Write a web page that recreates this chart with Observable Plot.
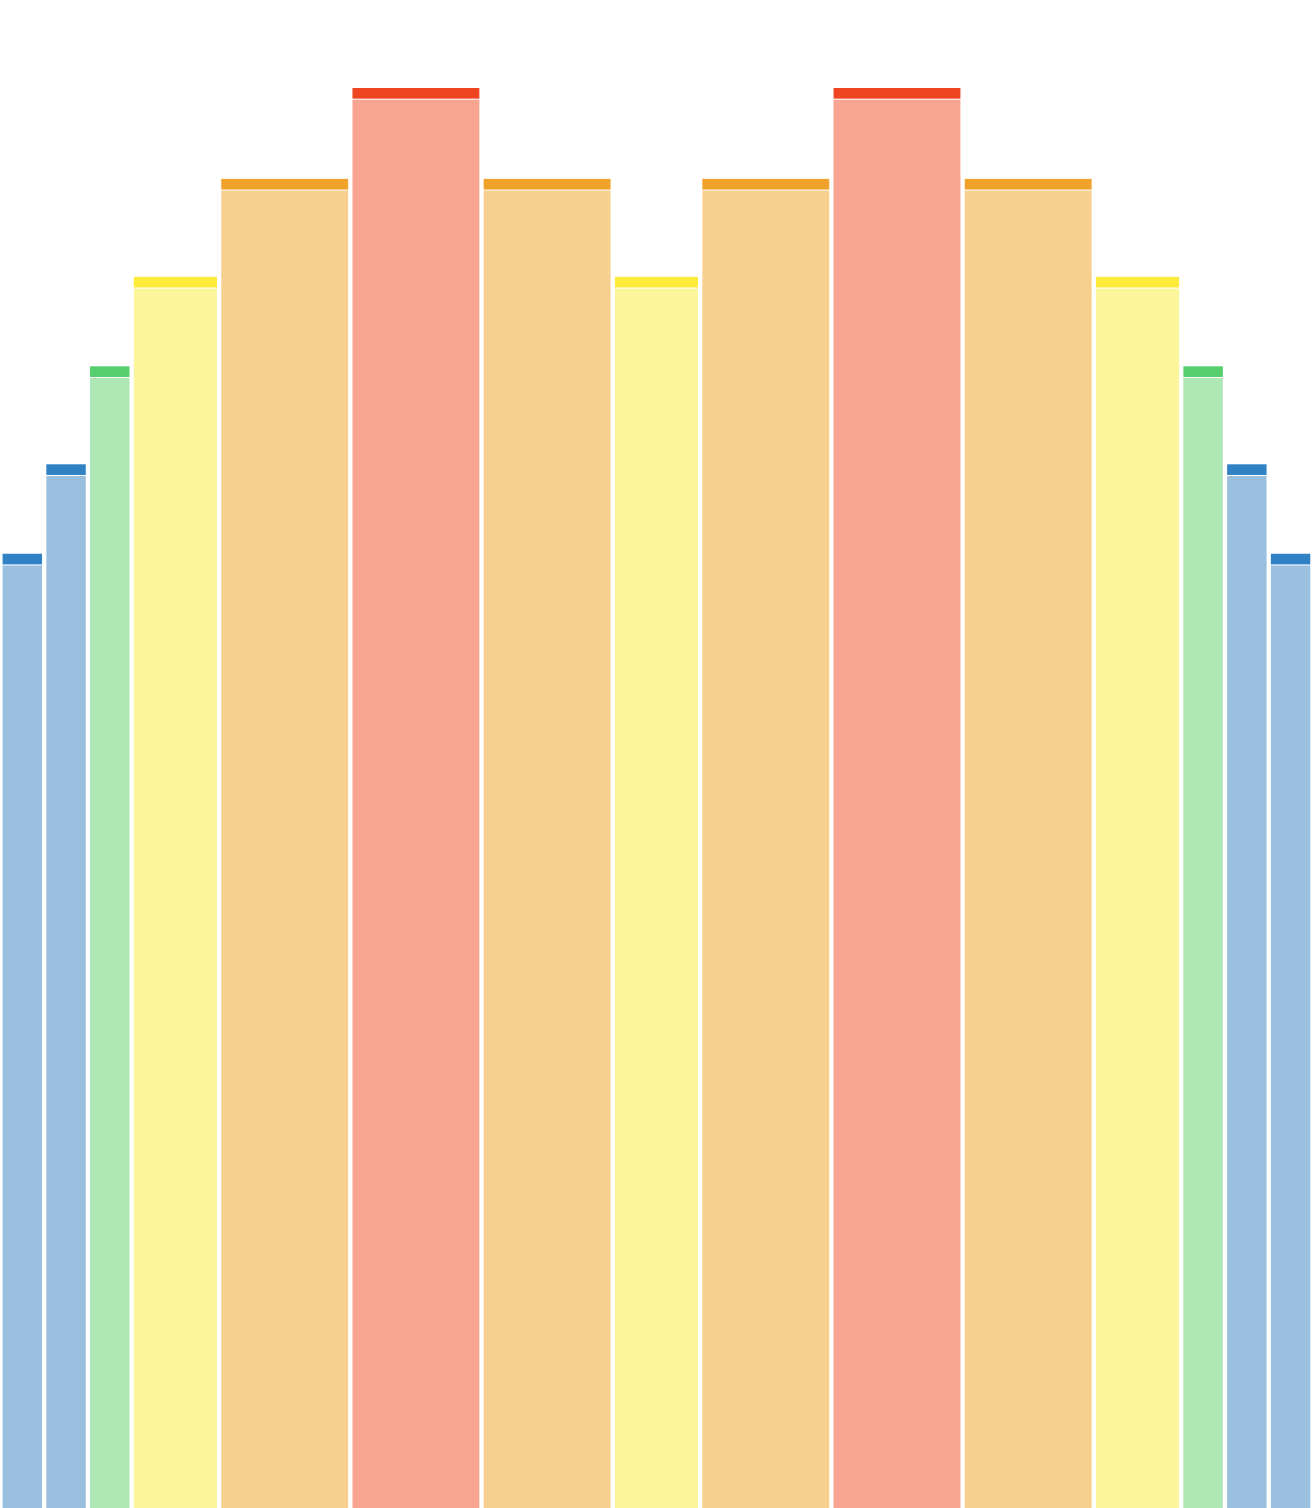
<!DOCTYPE html>
<html>
<head>
<meta charset="utf-8">
<script src="https://cdn.jsdelivr.net/npm/d3@7"></script>
<script src="https://cdn.jsdelivr.net/npm/@observablehq/plot@0.6"></script>
<style>
  html, body { margin: 0; padding: 0; background: #fff; overflow: hidden; }
  svg { display: block; }
</style>
</head>
<body>
<div id="chart"></div>
<script>
// Bar widths (in units), heights (values) and colour groups, left to right
const widths = [1, 1, 1, 2, 3, 3, 3, 2, 3, 3, 3, 2, 1, 1, 1];
const values = [67.2, 73.5, 80.4, 86.7, 93.6, 100, 93.6, 86.7, 93.6, 100, 93.6, 86.7, 80.4, 73.5, 67.2];
const groups = ["blue", "blue", "green", "yellow", "orange", "red", "orange", "yellow", "orange", "red", "orange", "yellow", "green", "blue", "blue"];

const groupNames = ["blue", "green", "yellow", "orange", "red"];
const capColors = ["#3182c4", "#55ce6b", "#fdea3a", "#f1a22a", "#f04522"];
const fillColors = ["#9abfdf", "#ace7b4", "#fdf59b", "#f7d090", "#f7a590"];

let acc = 0;
const data = widths.map((w, i) => {
  const d = {x1: acc, x2: acc + w, value: values[i], group: groups[i]};
  acc += w;
  return d;
});

const capColor = d3.scaleOrdinal(groupNames, capColors);
const fillColor = d3.scaleOrdinal(groupNames, fillColors);

const chart = Plot.plot({
  width: 1312,
  height: 1508,
  margin: 0,
  x: {domain: [0, acc], axis: null},
  y: {domain: [0, 100], range: [1508, 88], axis: null},
  marks: [
    Plot.rect(data, {
      x1: "x1", x2: "x2", y1: 0, y2: "value",
      fill: d => fillColor(d.group),
      insetLeft: 2.6, insetRight: 1.7, insetTop: 11.7
    }),
    Plot.rect(data, {
      x1: "x1", x2: "x2", y1: "value", y2: d => d.value - 0.75,
      fill: d => capColor(d.group),
      insetLeft: 2.6, insetRight: 1.7
    })
  ]
});
document.getElementById("chart").appendChild(chart);
</script>
</body>
</html>
